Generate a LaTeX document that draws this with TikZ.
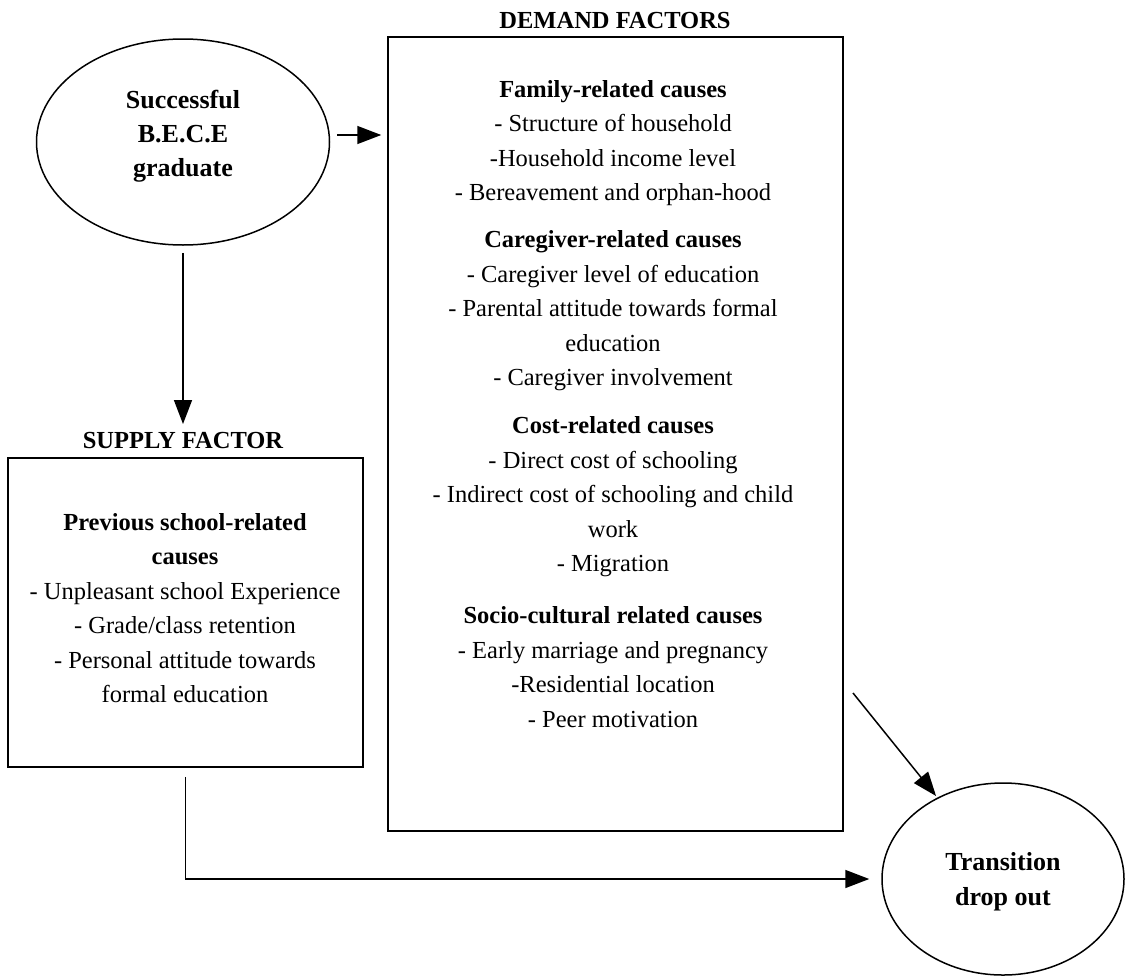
\documentclass[tikz,border=0pt]{standalone}
\usepackage{fontspec}
\setmainfont{Liberation Serif}
\usetikzlibrary{arrows.meta,positioning,shapes.geometric}

\begin{document}
\begin{tikzpicture}[x=1pt, y=-1pt, line width=1.5pt,
  txt/.style={align=center, font=\fontsize{24.5}{34.5}\selectfont, inner sep=0pt},
  title/.style={font=\fontsize{24.5}{26}\selectfont\bfseries, inner sep=0pt},
  oval/.style={ellipse, draw, inner sep=0pt},
  factor box/.style={draw, rectangle, inner sep=0pt},
  arr/.style={-{Triangle[length=24pt,width=18pt]}}]
\useasboundingbox (0,0) rectangle (1126,977);
% ovals
\node[oval, minimum width=293pt, minimum height=206pt] (bece) at (183,142) {};
\node[txt, font=\fontsize{26}{34}\selectfont\bfseries] at (183,136) {Successful\\B.E.C.E\\graduate};
\node[oval, minimum width=242pt, minimum height=192pt] (trans) at (1003,879) {};
\node[txt, font=\fontsize{26}{35}\selectfont\bfseries] at (1003,882) {Transition\\drop out};
% demand side
\node[title] (demtitle) at (615,21) {DEMAND FACTORS};
\node[factor box, minimum width=455pt, minimum height=794pt] (demand) at (615.5,434) {};
\node[txt] (family) at (613,143) {\textbf{Family-related causes}\\- Structure of household\\-Household income level\\- Bereavement and orphan-hood};
\node[txt] (caregiver) at (613,311) {\textbf{Caregiver-related causes}\\- Caregiver level of education\\- Parental attitude towards formal\\education\\- Caregiver involvement};
\node[txt] (cost) at (613,497) {\textbf{Cost-related causes}\\- Direct cost of schooling\\- Indirect cost of schooling and child\\work\\- Migration};
\node[txt] (socio) at (613,667) {\textbf{Socio-cultural related causes}\\- Early marriage and pregnancy\\-Residential location\\- Peer motivation};
\coordinate (dout) at (853,693);
% supply side
\node[title] (suptitle) at (183,441) {SUPPLY FACTOR};
\node[factor box, minimum width=355pt, minimum height=309pt] (supply) at (185.5,612.5) {};
\node[txt] (school) at (185,608) {\textbf{Previous school-related}\\\textbf{causes}\\- Unpleasant school Experience\\- Grade/class retention\\- Personal attitude towards\\formal education};
% arrows
\draw[arr, shorten <=7pt, shorten >=6pt] (bece.east |- 0,135) -- (demand.west |- 0,135);
\draw[arr, shorten <=7pt, shorten >=8pt] (bece.south) -- (suptitle.north);
\draw[arr, shorten >=2pt] (dout) -- (trans);
\draw[arr, shorten <=9pt, shorten >=12pt] (supply.south) |- (trans.west);
\end{tikzpicture}
\end{document}
